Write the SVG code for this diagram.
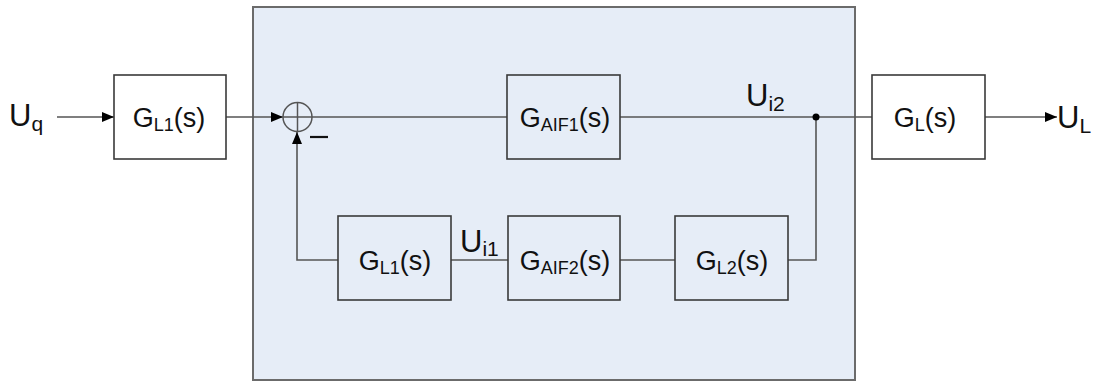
<svg xmlns="http://www.w3.org/2000/svg" width="1099" height="382" viewBox="0 0 1099 382">
  <style>
    .blk { fill: none; stroke: #3a3a3a; stroke-width: 1.6; }
    .wire { fill: none; stroke: #555555; stroke-width: 1.6; }
    .lbl { font-family: "Liberation Sans", Arial, sans-serif; font-size: 27px; fill: #111111; }
    .sub { font-size: 18px; }
    .sig { font-family: "Liberation Sans", Arial, sans-serif; font-size: 31px; fill: #111111; }
    .ssub { font-size: 21px; }
  </style>
  <defs>
    <marker id="arr" viewBox="0 0 12 10" refX="12" refY="5" markerWidth="12" markerHeight="10" markerUnits="userSpaceOnUse" orient="auto">
      <path d="M0,0 L12,5 L0,10 Z" fill="#000000"/>
    </marker>
  </defs>

  <rect width="1099" height="382" fill="#ffffff"/>

  <!-- controller enclosure -->
  <rect id="enclosure" x="253" y="7" width="602" height="373" fill="#e6edf7" stroke="#6b6b6b" stroke-width="2"/>

  <g id="connectors">
    <line class="wire" x1="57" y1="117" x2="114" y2="117" marker-end="url(#arr)"/>
    <line class="wire" x1="226" y1="117" x2="283" y2="117" marker-end="url(#arr)"/>
    <line class="wire" x1="312" y1="117" x2="507" y2="117"/>
    <line class="wire" x1="620" y1="117" x2="816" y2="117"/>
    <line class="wire" x1="816" y1="117" x2="872" y2="117" stroke="#333333" stroke-width="2.2"/>
    <line class="wire" x1="985" y1="117" x2="1057" y2="117" marker-end="url(#arr)"/>
    <polyline class="wire" points="816,117 816,260 788,260"/>
    <line class="wire" x1="675" y1="260" x2="620" y2="260"/>
    <line class="wire" x1="508" y1="260" x2="451" y2="260"/>
    <polyline class="wire" points="338,260 297,260 297,132" marker-end="url(#arr)"/>
    <circle cx="816" cy="117" r="3.5" fill="#000000"/>
  </g>

  <g id="sum">
    <circle cx="297.5" cy="117" r="14.5" fill="none" stroke="#555555" stroke-width="1.5"/>
    <line x1="283" y1="117" x2="312" y2="117" stroke="#555555" stroke-width="1.5"/>
    <line x1="297.5" y1="102.5" x2="297.5" y2="131.5" stroke="#555555" stroke-width="1.5"/>
    <line x1="310" y1="137" x2="328" y2="137" stroke="#111111" stroke-width="2.2"/>
  </g>

  <g id="GL1_in">
    <rect class="blk" x="114" y="75" width="112" height="84" fill="#ffffff"/>
    <text class="lbl" x="169" y="127" text-anchor="middle">G<tspan class="sub" dy="4">L1</tspan><tspan dy="-4">(s)</tspan></text>
  </g>

  <g id="GAIF1">
    <rect class="blk" x="507" y="75" width="113" height="84"/>
    <text class="lbl" x="565" y="127" text-anchor="middle">G<tspan class="sub" dy="4">AIF1</tspan><tspan dy="-4">(s)</tspan></text>
  </g>

  <g id="GL">
    <rect class="blk" x="872" y="75" width="113" height="84" fill="#ffffff"/>
    <text class="lbl" x="925" y="127" text-anchor="middle">G<tspan class="sub" dy="4">L</tspan><tspan dy="-4">(s)</tspan></text>
  </g>

  <g id="GL1_fb">
    <rect class="blk" x="338" y="216" width="113" height="84"/>
    <text class="lbl" x="395" y="270" text-anchor="middle">G<tspan class="sub" dy="4">L1</tspan><tspan dy="-4">(s)</tspan></text>
  </g>

  <g id="GAIF2">
    <rect class="blk" x="508" y="216" width="112" height="84"/>
    <text class="lbl" x="565" y="270" text-anchor="middle">G<tspan class="sub" dy="4">AIF2</tspan><tspan dy="-4">(s)</tspan></text>
  </g>

  <g id="GL2">
    <rect class="blk" x="675" y="216" width="113" height="84"/>
    <text class="lbl" x="732" y="270" text-anchor="middle">G<tspan class="sub" dy="4">L2</tspan><tspan dy="-4">(s)</tspan></text>
  </g>

  <g id="signals">
    <text class="sig" x="9" y="126">U<tspan class="ssub" dy="5">q</tspan></text>
    <text class="sig" x="746" y="106">U<tspan class="ssub" dy="5">i2</tspan></text>
    <text class="sig" x="460" y="252">U<tspan class="ssub" dy="4">i1</tspan></text>
    <text class="sig" x="1057" y="128">U<tspan class="ssub" dy="5">L</tspan></text>
  </g>
</svg>
